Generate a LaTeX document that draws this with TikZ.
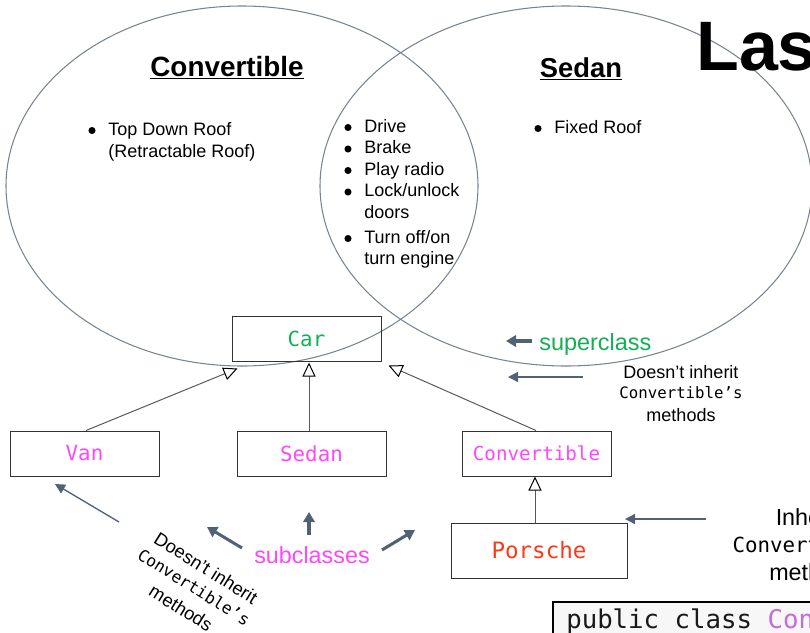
\documentclass[tikz,border=0pt]{standalone}
\usepackage{fontspec}
\setmainfont{Liberation Sans}
\newfontfamily\monof{DejaVu Sans Mono}
\usetikzlibrary{arrows.meta,calc}
\definecolor{cargreen}{RGB}{18,175,85}
\definecolor{subpink}{RGB}{255,70,255}
\definecolor{porred}{RGB}{255,55,25}
\definecolor{slate}{RGB}{82,98,117}
\definecolor{ellcol}{RGB}{120,132,148}
\definecolor{codepurple}{RGB}{200,105,220}
\tikzset{
  ell/.style={draw=ellcol, line width=0.8pt},
  umlbox/.style={draw=black!80, line width=0.75pt, minimum width=111.75pt, minimum height=33.75pt, inner sep=0pt},
  inh/.style={draw=black!65, line width=0.75pt, -{Triangle[open, length=10.5pt, width=9.75pt, fill=white, color=black]}},
  thickarr/.style={draw=slate, line width=2.3pt, -{Triangle[length=7.5pt, width=8.5pt]}},
  thinarr/.style={draw=slate, line width=1pt, -{Triangle[length=7.5pt, width=7.5pt]}},
  txt/.style={inner sep=0pt, font=\fontsize{13.5}{16}\selectfont},
  bul/.style={circle, fill=black, inner sep=0pt, minimum size=5.3pt},
}
\begin{document}
\begin{tikzpicture}[x=0.75pt,y=-0.75pt]
\useasboundingbox (0,0) rectangle (810,632);
% Venn ellipses
\draw[ell] (242,186) ellipse [x radius=177pt, y radius=135pt];
\draw[ell] (566,186) ellipse [x radius=184.5pt, y radius=135pt];
% titles
\node[inner sep=0pt, anchor=base, font=\bfseries\fontsize{20.9}{25}\selectfont] (t1) at (227,76) {\underline{Convertible}};
\node[inner sep=0pt, anchor=base, font=\bfseries\fontsize{20.5}{25}\selectfont] (t2) at (581,77) {\underline{Sedan}};
\node[inner sep=0pt, anchor=base west, font=\bfseries\fontsize{52.5}{60}\selectfont] (las) at (696,70) {Las};
% left list
\node[bul] (lb1) at (92,130.5) {};
\node[txt, anchor=base west] (l1) at (108,135) {Top Down Roof};
\node[txt, anchor=base west] (l2) at (108,157) {(Retractable Roof)};
% middle list
\node[bul] (mb1) at (348,127.5) {};
\node[txt, anchor=base west] (m1) at (364,132) {Drive};
\node[bul] (mb2) at (348,149) {};
\node[txt, anchor=base west] (m2) at (364,153.5) {Brake};
\node[bul] (mb3) at (348,170.5) {};
\node[txt, anchor=base west] (m3) at (364,175) {Play radio};
\node[bul] (mb4) at (348,192) {};
\node[txt, anchor=base west] (m4) at (364,196.5) {Lock/unlock};
\node[txt, anchor=base west] (m5) at (364,218) {doors};
\node[bul] (mb6) at (348,238.5) {};
\node[txt, anchor=base west] (m6) at (364,243) {Turn off/on};
\node[txt, anchor=base west] (m7) at (364,264.5) {turn engine};
% right list
\node[bul] (rb1) at (538,128.5) {};
\node[txt, anchor=base west] (r1) at (554,133) {Fixed Roof};
% class boxes
\node[umlbox, font=\monof\fontsize{15.6}{18}\selectfont, text=cargreen] (car) at (306.5,338.5) {Car};
\node[umlbox, font=\monof\fontsize{15.6}{18}\selectfont, text=subpink] (van) at (84.5,453.5) {Van};
\node[umlbox, font=\monof\fontsize{15.6}{18}\selectfont, text=subpink] (sedan) at (311.5,453.5) {Sedan};
\node[umlbox, font=\monof\fontsize{14.4}{18}\selectfont, text=subpink] (conv) at (536.5,453.5) {Convertible};
\node[umlbox, minimum width=132pt, minimum height=41.25pt, font=\monof\fontsize{16.9}{20}\selectfont, text=porred] (por) at (539,550.5) {Porsche};
% inheritance
\draw[inh] ($(van.north)+(1.5,0)$) -- ($(car.south west)+(6,7)$);
\draw[inh] ($(sedan.north)+(-2.5,0)$) -- ($(car.south)+(2.5,1)$);
\draw[inh] ($(conv.north)+(-0.5,0)$) -- ($(car.south east)+(7,4)$);
\draw[inh] ($(por.north)+(-4,0)$) -- ($(conv.south)+(-1.5,0)$);
% superclass
\node[inner sep=0pt, anchor=base west, text=cargreen, font=\fontsize{17.6}{20}\selectfont] (sup) at (539,350) {superclass};
\coordinate (sa1) at (532,341);
\coordinate (sa2) at (506,341);
\draw[thickarr] (sa1) -- (sa2);
% doesn't inherit (right)
\node[inner sep=0pt, anchor=base, font=\fontsize{13.5}{16}\selectfont] (d1) at (681,378) {Doesn’t inherit};
\node[inner sep=0pt, anchor=base, font=\monof\fontsize{11.8}{14}\selectfont] (d2) at (681,398) {Convertible’s};
\node[inner sep=0pt, anchor=base, font=\fontsize{13.5}{16}\selectfont] (d3) at (681,421) {methods};
\coordinate (da1) at (583,377);
\coordinate (da2) at (508,377);
\draw[thinarr] (da1) -- (da2);
% inherits (far right, cut)
\node[inner sep=0pt, anchor=base, font=\fontsize{17.5}{20}\selectfont] (i1) at (814,525) {Inherits};
\node[inner sep=0pt, anchor=base, font=\monof\fontsize{15.6}{18}\selectfont] (i2) at (814,552) {Convertible’s};
\node[inner sep=0pt, anchor=base, font=\fontsize{17.5}{20}\selectfont] (i3) at (814,580) {methods};
\coordinate (ia1) at (706,519);
\coordinate (ia2) at (625,519);
\draw[thinarr] (ia1) -- (ia2);
% subclasses
\node[inner sep=0pt, anchor=base west, text=subpink, font=\fontsize{17.5}{20}\selectfont] (sub) at (254,563) {subclasses};
\coordinate (s1a) at (242,548); \coordinate (s1b) at (207,527);
\coordinate (s2a) at (309,535); \coordinate (s2b) at (309,512);
\coordinate (s3a) at (382,550); \coordinate (s3b) at (415,530);
\draw[thickarr] (s1a) -- (s1b);
\draw[thickarr] (s2a) -- (s2b);
\draw[thickarr] (s3a) -- (s3b);
% doesn't inherit (rotated, bottom left)
\node[inner sep=0pt, rotate=-32, font=\fontsize{13.8}{16}\selectfont] (rot1) at (206,568) {Doesn’t inherit};
\node[inner sep=0pt, rotate=-32, font=\monof\fontsize{12.3}{15}\selectfont] (rot2) at (194,587) {Convertible’s};
\node[inner sep=0pt, rotate=-32, font=\fontsize{13.8}{16}\selectfont] (rot3) at (181,608) {methods};
\coordinate (va1) at (119,522);
\coordinate (va2) at (55,484);
\draw[thinarr] (va1) -- (va2);
% code box
\draw[draw=black, line width=1.8pt, fill=black!3] (553,602) rectangle (840,660);
\node[inner sep=0pt, anchor=base west, font=\monof\fontsize{19.3}{22}\selectfont, text=black!90] (code) at (566,628) {public class \textcolor{codepurple}{Convertible}};
\end{tikzpicture}
\end{document}
